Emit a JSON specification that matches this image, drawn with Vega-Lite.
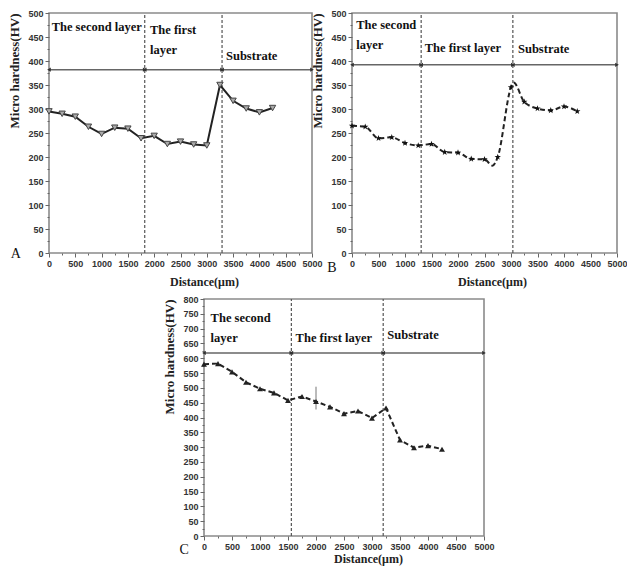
{
  "$schema": "https://vega.github.io/schema/vega-lite/v6.json",
  "background": "white",
  "padding": {"left": 8, "top": 8, "right": 2, "bottom": 2},
  "config": {
    "view": {"stroke": "#8a8a8a", "strokeWidth": 1.6},
    "axis": {
      "grid": false, "domain": false, "tickColor": "#666", "tickWidth": 1,
      "labelFont": "Liberation Sans Narrow, Arial Narrow, Liberation Sans",
      "labelFontSize": 9, "labelFontWeight": "bold", "labelColor": "#333", "labelPadding": 2,
      "titleFont": "Liberation Serif", "titleFontWeight": "bold", "titleColor": "#222"
    },
    "axisX": {"titleFontSize": 12, "titlePadding": 8, "labelFlush": false, "labelOverlap": false,
      "tickSize": {"condition": {"test": "datum.value % 500 === 0", "value": 4}, "value": 2}},
    "axisY": {"titleFontSize": 13, "titlePadding": 6, "labelOverlap": false, "titleAnchor": "end"},
    "text": {"font": "Liberation Serif", "fontWeight": "bold", "fontSize": 12.5, "color": "#111"}
  },
  "datasets": {
    "a": [{"x":0,"y":295},{"x":250,"y":290},{"x":500,"y":284},{"x":750,"y":263},{"x":1000,"y":248},{"x":1250,"y":261},{"x":1500,"y":259},{"x":1750,"y":239},{"x":2000,"y":244},{"x":2250,"y":227},{"x":2500,"y":232},{"x":2750,"y":226},{"x":3000,"y":224},{"x":3250,"y":350},{"x":3500,"y":317},{"x":3750,"y":301},{"x":4000,"y":293},{"x":4250,"y":302}],
    "aDiv": [{"x":1820,"y":0,"y2":500},{"x":3290,"y":0,"y2":500}],
    "aBar": [{"x":0,"x2":5000,"y":382}],
    "aArr": [{"x":0,"y":382,"d":"L"},{"x":1820,"y":382,"d":"R"},{"x":1820,"y":382,"d":"L"},{"x":3290,"y":382,"d":"R"},{"x":3290,"y":382,"d":"L"},{"x":5000,"y":382,"d":"R"}],
    "aText": [{"x":50,"y":484,"t":"The second layer"},{"x":1920,"y":477,"t":"The first\nlayer"},{"x":3365,"y":423,"t":"Substrate"}],
    "aLetter": [{"x":-631,"y":-2,"t":"A"}],
    "b": [{"x":0,"y":265,"p":1},{"x":250,"y":263,"p":1},{"x":500,"y":239,"p":1},{"x":750,"y":241,"p":1},{"x":1000,"y":229,"p":1},{"x":1250,"y":224,"p":1},{"x":1500,"y":227,"p":1},{"x":1750,"y":210,"p":1},{"x":2000,"y":209,"p":1},{"x":2250,"y":196,"p":1},{"x":2500,"y":195,"p":1},{"x":2650,"y":182,"p":0},{"x":2750,"y":200,"p":1},{"x":3000,"y":345,"p":1},{"x":3050,"y":355,"p":0},{"x":3250,"y":315,"p":1},{"x":3500,"y":301,"p":1},{"x":3750,"y":297,"p":1},{"x":4000,"y":305,"p":1},{"x":4250,"y":295,"p":1}],
    "bDiv": [{"x":1305,"y":0,"y2":500},{"x":3035,"y":0,"y2":500}],
    "bBar": [{"x":0,"x2":5000,"y":392}],
    "bArr": [{"x":0,"y":392,"d":"L"},{"x":1305,"y":392,"d":"R"},{"x":1305,"y":392,"d":"L"},{"x":3035,"y":392,"d":"R"},{"x":3035,"y":392,"d":"L"},{"x":5000,"y":392,"d":"R"}],
    "bText": [{"x":80,"y":488,"t":"The second\nlayer"},{"x":1372,"y":440,"t":"The first layer"},{"x":3132,"y":437,"t":"Substrate"}],
    "bLetter": [{"x":-377,"y":-31,"t":"B"}],
    "c": [{"x":0,"y":580},{"x":250,"y":582},{"x":500,"y":554},{"x":750,"y":519},{"x":1000,"y":497},{"x":1250,"y":483},{"x":1500,"y":458},{"x":1750,"y":471},{"x":2000,"y":454},{"x":2250,"y":436},{"x":2500,"y":413},{"x":2750,"y":422},{"x":3000,"y":398},{"x":3250,"y":432},{"x":3500,"y":324},{"x":3750,"y":298},{"x":4000,"y":305},{"x":4250,"y":293}],
    "cErr": [{"x":2000,"y":427,"y2":504}],
    "cDiv": [{"x":1560,"y":0,"y2":800},{"x":3200,"y":0,"y2":800}],
    "cBar": [{"x":0,"x2":5000,"y":618}],
    "cArr": [{"x":0,"y":618,"d":"L"},{"x":1560,"y":618,"d":"R"},{"x":1560,"y":618,"d":"L"},{"x":3200,"y":618,"d":"R"},{"x":3200,"y":618,"d":"L"},{"x":5000,"y":618,"d":"R"}],
    "cText": [{"x":118,"y":755,"t":"The second\nlayer"},{"x":1636,"y":687,"t":"The first layer"},{"x":3273,"y":699,"t":"Substrate"}],
    "cLetter": [{"x":-352,"y":-47,"t":"C"}]
  },
  "spacing": 6,
  "vconcat": [
    {
      "bounds": "flush",
      "spacing": 40,
      "hconcat": [
        {
          "width": 263, "height": 240,
          "encoding": {
            "x": {"field": "x", "type": "quantitative", "scale": {"domain": [0, 5000], "nice": false},
              "axis": {"values": [0,250,500,750,1000,1250,1500,1750,2000,2250,2500,2750,3000,3250,3500,3750,4000,4250,4500,4750,5000], "labelExpr": "datum.value % 500 === 0 ? datum.label : ''", "format": "d", "title": "Distance(μm)", "titleX": 155}},
            "y": {"field": "y", "type": "quantitative", "scale": {"domain": [0, 500], "nice": false},
              "axis": {"values": [0,25,50,75,100,125,150,175,200,225,250,275,300,325,350,375,400,425,450,475,500], "labelExpr": "datum.value % 50 === 0 ? datum.label : ''", "title": "Micro hardness(HV)",
                "tickSize": {"condition": {"test": "datum.value % 50 === 0", "value": 4}, "value": 2}}}
          },
          "layer": [
            {"data": {"name": "aDiv"}, "mark": {"type": "rule", "strokeDash": [3, 2], "color": "#555", "strokeWidth": 1.2}, "encoding": {"y2": {"field": "y2"}}},
            {"data": {"name": "aBar"}, "mark": {"type": "rule", "color": "#666", "strokeWidth": 1.5}, "encoding": {"x2": {"field": "x2"}}},
            {"data": {"name": "aArr"}, "mark": {"type": "point", "filled": true, "color": "#333", "size": 18, "opacity": 1},
              "encoding": {"shape": {"field": "d", "type": "nominal", "scale": {"domain": ["L", "R"], "range": ["triangle-left", "triangle-right"]}, "legend": null}}},
            {"data": {"name": "a"}, "mark": {"type": "line", "color": "#222", "strokeWidth": 2}},
            {"data": {"name": "a"}, "mark": {"type": "point", "shape": "triangle-down", "filled": true, "fill": "#aaa", "stroke": "#444", "strokeWidth": 1, "size": 40, "opacity": 1}},
            {"data": {"name": "aText"}, "mark": {"type": "text", "align": "left", "baseline": "top", "lineBreak": "\n", "lineHeight": 20}, "encoding": {"text": {"field": "t"}}},
            {"data": {"name": "aLetter"}, "mark": {"type": "text", "align": "center", "baseline": "middle", "fontWeight": "normal", "fontSize": 14}, "encoding": {"text": {"field": "t"}}}
          ]
        },
        {
          "width": 265, "height": 240,
          "encoding": {
            "x": {"field": "x", "type": "quantitative", "scale": {"domain": [0, 5000], "nice": false},
              "axis": {"values": [0,250,500,750,1000,1250,1500,1750,2000,2250,2500,2750,3000,3250,3500,3750,4000,4250,4500,4750,5000], "labelExpr": "datum.value % 500 === 0 ? datum.label : ''", "format": "d", "title": "Distance(μm)", "titleX": 140}},
            "y": {"field": "y", "type": "quantitative", "scale": {"domain": [0, 500], "nice": false},
              "axis": {"values": [0,25,50,75,100,125,150,175,200,225,250,275,300,325,350,375,400,425,450,475,500], "labelExpr": "datum.value % 50 === 0 ? datum.label : ''", "title": "Micro hardness(HV)",
                "tickSize": {"condition": {"test": "datum.value % 50 === 0", "value": 4}, "value": 2}}}
          },
          "layer": [
            {"data": {"name": "bDiv"}, "mark": {"type": "rule", "strokeDash": [3, 2], "color": "#555", "strokeWidth": 1.2}, "encoding": {"y2": {"field": "y2"}}},
            {"data": {"name": "bBar"}, "mark": {"type": "rule", "color": "#666", "strokeWidth": 1.5}, "encoding": {"x2": {"field": "x2"}}},
            {"data": {"name": "bArr"}, "mark": {"type": "point", "filled": true, "color": "#333", "size": 18, "opacity": 1},
              "encoding": {"shape": {"field": "d", "type": "nominal", "scale": {"domain": ["L", "R"], "range": ["triangle-left", "triangle-right"]}, "legend": null}}},
            {"data": {"name": "b"}, "mark": {"type": "line", "color": "#222", "strokeWidth": 2, "strokeDash": [5, 3], "interpolate": "monotone"}},
            {"data": {"name": "b"}, "transform": [{"filter": "datum.p === 1"}], "mark": {"type": "point", "shape": "M0,-1L0.235,-0.324L0.951,-0.309L0.38,0.124L0.588,0.809L0,0.4L-0.588,0.809L-0.38,0.124L-0.951,-0.309L-0.235,-0.324Z", "filled": true, "color": "#111", "size": 45, "opacity": 1}},
            {"data": {"name": "bText"}, "mark": {"type": "text", "align": "left", "baseline": "top", "lineBreak": "\n", "lineHeight": 20}, "encoding": {"text": {"field": "t"}}},
            {"data": {"name": "bLetter"}, "mark": {"type": "text", "align": "center", "baseline": "middle", "fontWeight": "normal", "fontSize": 14}, "encoding": {"text": {"field": "t"}}}
          ]
        }
      ]
    },
    {
      "bounds": "flush",
      "spacing": 10,
      "hconcat": [
        {
          "width": 145, "height": 20,
          "view": {"stroke": null},
          "data": {"values": []},
          "mark": {"type": "rule"},
          "encoding": {}
        },
        {
          "width": 280, "height": 237,
          "encoding": {
            "x": {"field": "x", "type": "quantitative", "scale": {"domain": [0, 5000], "nice": false},
              "axis": {"values": [0,250,500,750,1000,1250,1500,1750,2000,2250,2500,2750,3000,3250,3500,3750,4000,4250,4500,4750,5000], "labelExpr": "datum.value % 500 === 0 ? datum.label : ''", "format": "d", "title": "Distance(μm)", "titleX": 164, "titlePadding": 2}},
            "y": {"field": "y", "type": "quantitative", "scale": {"domain": [0, 800], "nice": false},
              "axis": {"values": [0,25,50,75,100,125,150,175,200,225,250,275,300,325,350,375,400,425,450,475,500,525,550,575,600,625,650,675,700,725,750,775,800], "labelExpr": "datum.value % 50 === 0 ? datum.label : ''", "title": "Micro hardness(HV)",
                "tickSize": {"condition": {"test": "datum.value % 50 === 0", "value": 4}, "value": 2}}}
          },
          "layer": [
            {"data": {"name": "cDiv"}, "mark": {"type": "rule", "strokeDash": [3, 2], "color": "#555", "strokeWidth": 1.2}, "encoding": {"y2": {"field": "y2"}}},
            {"data": {"name": "cBar"}, "mark": {"type": "rule", "color": "#666", "strokeWidth": 1.5}, "encoding": {"x2": {"field": "x2"}}},
            {"data": {"name": "cArr"}, "mark": {"type": "point", "filled": true, "color": "#333", "size": 18, "opacity": 1},
              "encoding": {"shape": {"field": "d", "type": "nominal", "scale": {"domain": ["L", "R"], "range": ["triangle-left", "triangle-right"]}, "legend": null}}},
            {"data": {"name": "cErr"}, "mark": {"type": "rule", "color": "#777", "strokeWidth": 1}, "encoding": {"y2": {"field": "y2"}}},
            {"data": {"name": "c"}, "mark": {"type": "line", "color": "#222", "strokeWidth": 2, "strokeDash": [5, 3]}},
            {"data": {"name": "c"}, "mark": {"type": "point", "shape": "triangle-up", "filled": true, "color": "#222", "size": 35, "opacity": 1}},
            {"data": {"name": "cText"}, "mark": {"type": "text", "align": "left", "baseline": "top", "lineBreak": "\n", "lineHeight": 20}, "encoding": {"text": {"field": "t"}}},
            {"data": {"name": "cLetter"}, "mark": {"type": "text", "align": "center", "baseline": "middle", "fontWeight": "normal", "fontSize": 14}, "encoding": {"text": {"field": "t"}}}
          ]
        }
      ]
    }
  ]
}
